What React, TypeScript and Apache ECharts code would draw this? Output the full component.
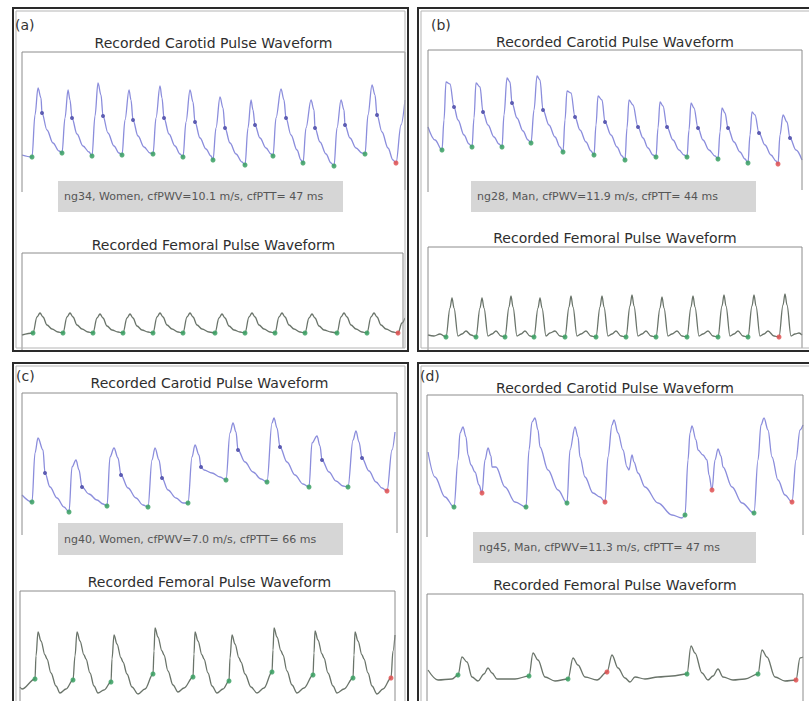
import React, { useEffect, useRef } from "react";
import * as echarts from "echarts";

// Each waveform point: [time (samples), amplitude (a.u.), marker]
// marker: 0 none, 1 green foot, 2 red foot, 3 blue shoulder point
type Pt = number[];

const panelLabels = ["(a)", "(b)", "(c)", "(d)"];
const carotidTitle = "Recorded Carotid Pulse Waveform";
const femoralTitle = "Recorded Femoral Pulse Waveform";
const annotations = [
  "ng34, Women, cfPWV=10.1 m/s, cfPTT= 47 ms",
  "ng28, Man, cfPWV=11.9 m/s, cfPTT= 44 ms",
  "ng40, Women, cfPWV=7.0 m/s, cfPTT= 66 ms",
  "ng45, Man, cfPWV=11.3 m/s, cfPTT= 47 ms",
];

const carotidA: Pt[] = [
  [0, 35, 0], [10, 33, 1], [13, 75, 0], [16, 102, 0], [19, 92, 0], [20, 77, 3], [25, 60, 0], [31, 47, 0], [37, 39, 0],
  [40, 37, 1], [43, 72, 0], [46, 100, 0], [48, 90, 0], [50, 72, 3], [55, 56, 0], [61, 44, 0], [67, 38, 0],
  [70, 34, 1], [73, 74, 0], [76, 107, 0], [79, 95, 0], [81, 74, 3], [86, 57, 0], [92, 44, 0], [97, 37, 0],
  [100, 35, 1], [103, 70, 0], [107, 100, 0], [109, 90, 0], [111, 70, 3], [116, 54, 0], [122, 43, 0], [128, 37, 0],
  [131, 36, 1], [134, 72, 0], [138, 104, 0], [140, 92, 0], [142, 72, 3], [147, 56, 0], [153, 44, 0], [158, 36, 0],
  [161, 33, 1], [164, 68, 0], [168, 100, 0], [171, 88, 0], [173, 68, 3], [178, 52, 0], [184, 41, 0], [189, 34, 0],
  [191, 30, 1], [194, 62, 0], [198, 93, 0], [201, 82, 0], [203, 62, 3], [208, 47, 0], [214, 36, 0], [220, 28, 0],
  [223, 25, 1], [226, 62, 0], [229, 90, 0], [231, 80, 0], [233, 65, 3], [238, 52, 0], [244, 42, 0], [249, 36, 0],
  [251, 34, 1], [254, 72, 0], [259, 101, 0], [262, 90, 0], [264, 72, 3], [269, 55, 0], [275, 40, 0], [279, 30, 0],
  [281, 27, 1], [284, 62, 0], [289, 90, 0], [292, 80, 0], [293, 62, 3], [298, 48, 0], [304, 36, 0], [309, 27, 0],
  [312, 24, 1], [315, 62, 0], [319, 90, 0], [322, 80, 0], [323, 65, 3], [328, 52, 0], [334, 42, 0], [340, 37, 0],
  [343, 36, 1], [346, 75, 0], [350, 105, 0], [353, 95, 0], [355, 75, 3], [360, 58, 0], [366, 42, 0], [371, 30, 0],
  [374, 27, 2], [379, 65, 0], [383, 90, 0],
];

const femoralA: Pt[] = [
  [0, 13, 0], [11, 15, 1], [15, 31, 0], [18, 35, 0], [21, 31, 0], [25, 23, 0], [30, 19, 0], [36, 16, 0],
  [41, 15, 1], [45, 31, 0], [48, 35, 0], [51, 31, 0], [55, 23, 0], [60, 19, 0], [66, 16, 0],
  [71, 15, 1], [75, 30, 0], [78, 34, 0], [81, 30, 0], [85, 22, 0], [90, 18, 0], [96, 16, 0],
  [101, 15, 1], [105, 30, 0], [108, 34, 0], [111, 30, 0], [115, 22, 0], [120, 18, 0], [126, 16, 0],
  [131, 15, 1], [135, 31, 0], [138, 35, 0], [141, 31, 0], [145, 23, 0], [150, 19, 0], [156, 16, 0],
  [161, 15, 1], [165, 31, 0], [168, 35, 0], [171, 31, 0], [175, 23, 0], [180, 19, 0], [187, 16, 0],
  [193, 15, 1], [197, 30, 0], [200, 34, 0], [203, 30, 0], [207, 22, 0], [212, 18, 0], [218, 16, 0],
  [223, 15, 1], [227, 31, 0], [230, 35, 0], [233, 31, 0], [237, 23, 0], [242, 19, 0], [248, 16, 0],
  [253, 15, 1], [257, 31, 0], [260, 35, 0], [263, 31, 0], [267, 23, 0], [272, 19, 0], [278, 16, 0],
  [283, 15, 1], [287, 30, 0], [290, 34, 0], [293, 30, 0], [297, 22, 0], [302, 18, 0], [309, 16, 0],
  [315, 15, 1], [319, 31, 0], [322, 35, 0], [325, 31, 0], [329, 23, 0], [334, 19, 0], [340, 16, 0],
  [345, 15, 1], [349, 31, 0], [352, 35, 0], [355, 31, 0], [359, 23, 0], [364, 19, 0], [371, 16, 0],
  [376, 15, 2], [380, 25, 0], [383, 30, 0],
];

const carotidB: Pt[] = [
  [0, 63, 0], [7, 50, 0],
  [14, 40, 1], [16, 70, 0], [18, 108, 0], [22, 106, 0], [26, 83, 3], [30, 70, 0], [36, 55, 0], [41, 46, 0],
  [44, 43, 1], [46, 72, 0], [48, 107, 0], [52, 103, 0], [55, 78, 3], [60, 65, 0], [66, 53, 0], [71, 46, 0],
  [74, 43, 1], [76, 75, 0], [79, 112, 0], [82, 108, 0], [84, 87, 3], [89, 72, 0], [95, 59, 0], [100, 50, 0],
  [103, 47, 1], [106, 80, 0], [109, 114, 0], [112, 110, 0], [115, 80, 3], [121, 65, 0], [127, 53, 0], [132, 43, 0],
  [135, 38, 1], [137, 70, 0], [139, 99, 0], [143, 97, 0], [147, 73, 3], [152, 60, 0], [158, 48, 0], [163, 39, 0],
  [166, 35, 1], [168, 65, 0], [170, 94, 0], [174, 90, 0], [177, 68, 3], [183, 55, 0], [189, 43, 0], [194, 34, 0],
  [197, 30, 1], [199, 62, 0], [201, 90, 0], [205, 85, 0], [210, 63, 3], [215, 52, 0], [220, 42, 0], [225, 35, 0],
  [228, 33, 1], [230, 62, 0], [232, 88, 0], [235, 84, 0], [239, 63, 3], [245, 50, 0], [251, 40, 0], [256, 35, 0],
  [259, 33, 1], [261, 60, 0], [263, 87, 0], [266, 82, 0], [270, 62, 3], [275, 50, 0], [281, 40, 0], [287, 34, 0],
  [290, 31, 1], [292, 58, 0], [294, 82, 0], [297, 77, 0], [300, 62, 3], [306, 48, 0], [312, 38, 0], [317, 31, 0],
  [320, 27, 1], [322, 55, 0], [324, 78, 0], [327, 75, 0], [331, 57, 3], [337, 45, 0], [343, 35, 0], [348, 29, 0],
  [350, 26, 2], [352, 55, 0], [355, 75, 0], [359, 68, 0], [362, 52, 3], [368, 40, 0], [374, 30, 0],
];

const femoralB: Pt[] = [
  [0, 13, 0], [6, 12, 0], [12, 14, 0],
  [18, 11, 1], [22, 40, 0], [24, 50, 0], [26, 40, 0], [30, 12, 0], [34, 14, 0], [38, 17, 0], [43, 13, 0],
  [48, 11, 1], [52, 40, 0], [54, 50, 0], [56, 40, 0], [60, 12, 0], [64, 14, 0], [68, 17, 0], [73, 12, 0],
  [77, 11, 1], [81, 41, 0], [83, 52, 0], [85, 41, 0], [89, 12, 0], [93, 14, 0], [97, 17, 0], [102, 12, 0],
  [106, 11, 1], [110, 40, 0], [112, 50, 0], [114, 40, 0], [118, 12, 0], [122, 15, 0], [127, 17, 0], [132, 12, 0],
  [137, 11, 1], [141, 41, 0], [143, 52, 0], [145, 41, 0], [149, 12, 0], [153, 14, 0], [158, 17, 0], [163, 12, 0],
  [168, 11, 1], [172, 41, 0], [174, 52, 0], [176, 41, 0], [180, 12, 0], [184, 14, 0], [188, 17, 0], [193, 12, 0],
  [198, 11, 1], [202, 42, 0], [204, 53, 0], [206, 42, 0], [210, 12, 0], [214, 14, 0], [218, 17, 0], [223, 12, 0],
  [228, 11, 1], [232, 40, 0], [234, 51, 0], [236, 40, 0], [240, 12, 0], [244, 14, 0], [249, 17, 0], [254, 12, 0],
  [259, 11, 1], [263, 41, 0], [265, 52, 0], [267, 41, 0], [271, 12, 0], [275, 14, 0], [280, 17, 0], [285, 12, 0],
  [290, 11, 1], [294, 42, 0], [296, 53, 0], [298, 42, 0], [302, 12, 0], [306, 14, 0], [310, 17, 0], [315, 12, 0],
  [320, 11, 1], [324, 42, 0], [326, 53, 0], [328, 42, 0], [332, 12, 0], [336, 14, 0], [340, 17, 0], [346, 12, 0],
  [351, 11, 2], [355, 43, 0], [357, 54, 0], [359, 43, 0], [363, 12, 0], [367, 14, 0], [371, 15, 0], [374, 13, 0],
];

const carotidC: Pt[] = [
  [0, 38, 0], [10, 31, 1], [13, 80, 0], [16, 95, 0], [21, 83, 0], [23, 60, 3], [28, 46, 0], [35, 35, 0], [42, 26, 0],
  [47, 21, 1], [50, 66, 0], [54, 73, 0], [57, 63, 0], [60, 46, 3], [67, 39, 0], [75, 33, 0], [81, 29, 0],
  [85, 27, 1], [88, 76, 0], [92, 85, 0], [96, 75, 0], [99, 58, 3], [106, 45, 0], [114, 35, 0], [121, 28, 0],
  [126, 26, 1], [130, 73, 0], [133, 85, 0], [137, 73, 0], [140, 55, 3], [146, 43, 0], [154, 35, 0], [161, 30, 0],
  [166, 30, 1], [170, 76, 0], [173, 88, 0], [177, 78, 0], [179, 66, 3], [182, 63, 0], [190, 60, 0], [198, 56, 0],
  [204, 53, 1], [208, 100, 0], [211, 110, 0], [214, 101, 0], [216, 83, 3], [223, 71, 0], [231, 61, 0], [239, 54, 0],
  [245, 51, 1], [250, 110, 0], [252, 115, 0], [255, 105, 0], [258, 86, 3], [265, 71, 0], [273, 58, 0], [281, 49, 0],
  [287, 46, 1], [290, 90, 0], [295, 97, 0], [298, 87, 0], [300, 73, 3], [307, 61, 0], [314, 52, 0], [321, 47, 0],
  [326, 46, 1], [331, 93, 0], [334, 102, 0], [337, 91, 0], [340, 75, 3], [347, 62, 0], [354, 51, 0], [360, 45, 0],
  [365, 42, 2], [370, 83, 0], [373, 101, 0],
];

const femoralC: Pt[] = [
  [0, 14, 0], [2, 12, 0],
  [15, 22, 1], [16, 45, 0], [18, 69, 0], [21, 60, 0], [25, 46, 0], [27, 42, 0], [31, 28, 0], [36, 15, 0], [40, 8, 0],
  [46, 12, 0], [53, 21, 1], [55, 45, 0], [57, 69, 0], [60, 60, 0], [64, 46, 0], [66, 42, 0], [70, 28, 0], [74, 15, 0], [78, 8, 0],
  [84, 11, 0], [91, 19, 1], [92, 42, 0], [94, 66, 0], [97, 57, 0], [101, 43, 0], [103, 39, 0], [107, 27, 0], [112, 14, 0], [118, 7, 0],
  [125, 12, 0], [133, 27, 1], [134, 50, 0], [135, 73, 0], [138, 64, 0], [142, 50, 0], [144, 46, 0], [148, 30, 0], [153, 16, 0], [158, 9, 0],
  [164, 13, 0], [173, 24, 1], [174, 47, 0], [175, 69, 0], [178, 60, 0], [182, 46, 0], [184, 42, 0], [188, 28, 0], [192, 15, 0], [197, 8, 0],
  [203, 12, 0], [209, 20, 1], [210, 43, 0], [212, 66, 0], [215, 57, 0], [219, 43, 0], [221, 39, 0], [225, 27, 0], [231, 14, 0], [237, 8, 0],
  [244, 13, 0], [252, 29, 1], [253, 51, 0], [254, 73, 0], [257, 64, 0], [261, 50, 0], [263, 46, 0], [267, 30, 0], [272, 16, 0], [277, 8, 0],
  [284, 13, 0], [293, 26, 1], [294, 48, 0], [295, 70, 0], [298, 61, 0], [302, 47, 0], [304, 43, 0], [308, 28, 0], [313, 15, 0], [317, 8, 0],
  [324, 12, 0], [333, 23, 1], [334, 46, 0], [335, 69, 0], [338, 60, 0], [342, 46, 0], [344, 42, 0], [348, 28, 0], [352, 15, 0], [357, 7, 0],
  [363, 12, 0], [371, 23, 2], [373, 50, 0], [375, 66, 0],
];

const carotidD: Pt[] = [
  [1, 83, 0], [8, 58, 0], [18, 38, 0], [27, 28, 1],
  [31, 75, 0], [33, 102, 0], [36, 108, 0], [39, 98, 0], [41, 80, 0], [44, 70, 0], [48, 63, 0], [52, 50, 0], [55, 42, 2],
  [58, 75, 0], [61, 87, 0], [64, 79, 0], [65, 68, 0], [69, 68, 0], [78, 48, 0], [88, 33, 0], [99, 28, 1],
  [102, 85, 0], [105, 113, 0], [108, 117, 0], [111, 105, 0], [113, 88, 0], [121, 65, 0], [131, 45, 0], [140, 32, 1],
  [143, 85, 0], [148, 108, 0], [151, 98, 0], [153, 78, 0], [158, 58, 0], [166, 42, 0], [173, 38, 0], [178, 33, 2],
  [181, 78, 0], [185, 110, 0], [187, 115, 0], [191, 102, 0], [196, 85, 0], [200, 68, 0], [202, 65, 0], [205, 80, 0], [207, 73, 0],
  [211, 62, 0], [218, 48, 0], [231, 32, 0], [245, 20, 0], [255, 17, 0], [258, 20, 1],
  [261, 75, 0], [263, 102, 0], [265, 109, 0], [269, 95, 0], [271, 85, 0], [276, 80, 0], [280, 75, 0], [282, 60, 0], [285, 45, 2],
  [288, 75, 0], [291, 86, 0], [294, 79, 0], [296, 68, 0], [305, 48, 0], [315, 32, 0], [327, 22, 1],
  [331, 75, 0], [334, 110, 0], [337, 117, 0], [341, 105, 0], [345, 78, 0], [351, 55, 0], [358, 40, 0], [365, 33, 2],
  [369, 75, 0], [373, 105, 0], [376, 110, 0],
];

const femoralD: Pt[] = [
  [1, 31, 0], [11, 21, 0], [25, 22, 0], [31, 26, 1], [35, 44, 0], [40, 39, 0], [45, 24, 0], [51, 20, 0],
  [57, 27, 0], [61, 33, 0], [65, 28, 0], [70, 22, 0], [88, 22, 0],
  [102, 25, 1], [106, 48, 0], [111, 41, 0], [118, 24, 0], [128, 20, 0],
  [141, 22, 1], [146, 43, 0], [151, 36, 0], [158, 24, 0], [170, 21, 0],
  [180, 29, 2], [185, 46, 0], [191, 33, 0], [198, 23, 0], [203, 19, 0], [208, 24, 0], [218, 22, 0], [231, 24, 0], [245, 25, 0],
  [260, 27, 1], [264, 55, 0], [268, 48, 0], [275, 28, 0], [281, 21, 0], [286, 25, 0], [291, 32, 0], [296, 24, 0], [306, 21, 0], [318, 22, 0],
  [331, 27, 1], [335, 51, 0], [340, 44, 0], [348, 24, 0], [358, 20, 0],
  [369, 21, 2], [373, 43, 0], [376, 44, 0],
];

// layout (pixels)
const panels = [
  {
    frame: { x: 13, y: 8, w: 395, h: 343 }, label: { x: 15, y: 25 },
    car: { left: 22, top: 52, width: 383, height: 138 }, fem: { left: 22, top: 253, width: 381, height: 95 },
    carTitleY: 43, femTitleY: 245, box: { x: 58, y: 181, w: 285, h: 31 },
    carotid: carotidA, femoral: femoralA,
  },
  {
    frame: { x: 418, y: 8, w: 400, h: 343 }, label: { x: 431, y: 25 },
    car: { left: 428, top: 50, width: 374, height: 140 }, fem: { left: 428, top: 247, width: 374, height: 101 },
    carTitleY: 42, femTitleY: 238, box: { x: 471, y: 181, w: 285, h: 31 },
    carotid: carotidB, femoral: femoralB,
  },
  {
    frame: { x: 13, y: 363, w: 395, h: 400 }, label: { x: 16, y: 376 },
    car: { left: 22, top: 393, width: 375, height: 140 }, fem: { left: 20, top: 591, width: 375, height: 110 },
    carTitleY: 383, femTitleY: 582, box: { x: 58, y: 523, w: 285, h: 32 },
    carotid: carotidC, femoral: femoralC,
  },
  {
    frame: { x: 418, y: 363, w: 400, h: 400 }, label: { x: 420, y: 376 },
    car: { left: 427, top: 395, width: 376, height: 140 }, fem: { left: 427, top: 594, width: 376, height: 107 },
    carTitleY: 388, femTitleY: 585, box: { x: 473, y: 532, w: 283, h: 31 },
    carotid: carotidD, femoral: femoralD,
  },
];

const CAROTID_COLOR = "#8b8ddc";
const FEMORAL_COLOR = "#6a746a";
const GREEN = "#38a062";
const RED = "#e05050";
const BLUE = "#4a4aa8";
const FONT = "DejaVu Sans";

export default function App() {
  const ref = useRef<HTMLDivElement>(null);
  useEffect(() => {
    document.body.style.margin = "0";
    if (!ref.current) return;
    const chart = echarts.init(ref.current, undefined, { renderer: "svg" });
    const grids: any[] = [];
    const xAxes: any[] = [];
    const yAxes: any[] = [];
    const series: any[] = [];
    const graphic: any[] = [];

    const addWave = (g: any, pts: Pt[], color: string) => {
      const idx = grids.length;
      grids.push({ left: g.left, top: g.top, width: g.width, height: g.height, containLabel: false });
      xAxes.push({ gridIndex: idx, type: "value", min: 0, max: g.width, show: false });
      yAxes.push({ gridIndex: idx, type: "value", min: 0, max: g.height, show: false });
      series.push({
        type: "line", xAxisIndex: idx, yAxisIndex: idx, data: pts.map((p) => [p[0], p[1]]),
        showSymbol: false, smooth: 0.35, smoothMonotone: "x", clip: true,
        lineStyle: { color, width: 1.3 }, z: 2,
      });
      const markers: [number, string, number][] = [[1, GREEN, 5], [2, RED, 5], [3, BLUE, 4]];
      markers.forEach(([code, c, size]) => {
        const d = pts.filter((p) => p[2] === code).map((p) => [p[0], p[1]]);
        if (d.length) {
          series.push({
            type: "scatter", xAxisIndex: idx, yAxisIndex: idx, data: d, symbolSize: size,
            itemStyle: { color: c, opacity: 0.85 }, z: 3, silent: true,
          });
        }
      });
      graphic.push({
        type: "polyline", z: 5,
        shape: { points: [[g.left, g.top + g.height + 2], [g.left, g.top], [g.left + g.width, g.top], [g.left + g.width, g.top + g.height]] },
        style: { stroke: "#8c8c8c", lineWidth: 1, fill: "none" },
      });
    };

    panels.forEach((p, i) => {
      addWave(p.car, p.carotid, CAROTID_COLOR);
      addWave(p.fem, p.femoral, FEMORAL_COLOR);
      graphic.push({
        type: "rect", z: 6, shape: { x: p.frame.x, y: p.frame.y, width: p.frame.w, height: p.frame.h },
        style: { fill: "none", stroke: "#2a2a2a", lineWidth: 2 },
      });
      graphic.push({
        type: "rect", z: 6, shape: { x: p.frame.x + 3, y: p.frame.y + 3, width: p.frame.w - 6, height: p.frame.h - 6 },
        style: { fill: "none", stroke: "#b5b5b5", lineWidth: 1 },
      });
      graphic.push({
        type: "text", z: 7, x: p.label.x, y: p.label.y,
        style: { text: panelLabels[i], fontFamily: FONT, fontSize: 14, fill: "#333", align: "left", verticalAlign: "middle" },
      });
      const cx = p.car.left + p.car.width / 2;
      graphic.push({
        type: "text", z: 7, x: cx, y: p.carTitleY,
        style: { text: carotidTitle, fontFamily: FONT, fontSize: 14, fill: "#2e2e2e", align: "center", verticalAlign: "middle" },
      });
      graphic.push({
        type: "text", z: 7, x: cx, y: p.femTitleY,
        style: { text: femoralTitle, fontFamily: FONT, fontSize: 14, fill: "#2e2e2e", align: "center", verticalAlign: "middle" },
      });
      graphic.push({
        type: "rect", z: 7, shape: { x: p.box.x, y: p.box.y, width: p.box.w, height: p.box.h },
        style: { fill: "#d6d6d6", stroke: "none" },
      });
      graphic.push({
        type: "text", z: 8, x: p.box.x + 6, y: p.box.y + p.box.h / 2,
        style: { text: annotations[i], fontFamily: FONT, fontSize: 11, fill: "#555", align: "left", verticalAlign: "middle" },
      });
    });

    chart.setOption({
      animation: false,
      backgroundColor: "#ffffff",
      grid: grids,
      xAxis: xAxes,
      yAxis: yAxes,
      series,
      graphic,
    });
    return () => chart.dispose();
  }, []);
  return <div ref={ref} style={{ width: 809, height: 701 }} />;
}
